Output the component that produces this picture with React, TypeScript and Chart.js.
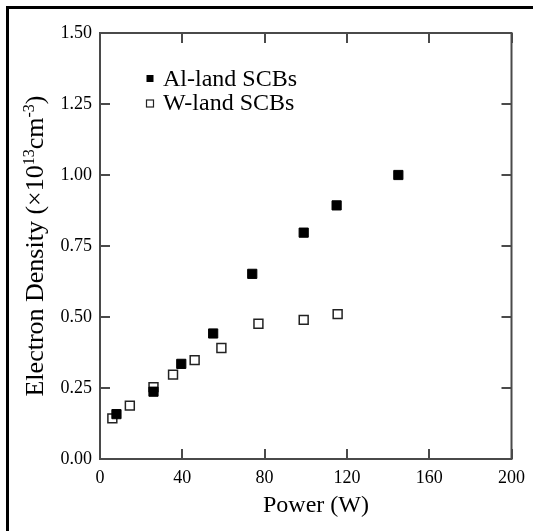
import { useEffect, useRef } from "react";
import { Chart, registerables } from "chart.js";

Chart.register(...registerables);

// ---- data ----
const alPower = [8, 26, 39.5, 55, 74, 99, 115, 145];
const alDensity = [0.158, 0.237, 0.335, 0.442, 0.652, 0.797, 0.893, 1.0];
const wPower = [6, 14.5, 26, 35.5, 46, 59, 77, 99, 115.5];
const wDensity = [0.143, 0.188, 0.253, 0.297, 0.348, 0.391, 0.476, 0.49, 0.51];
const xTicks = [0, 40, 80, 120, 160, 200];
const yTicks = [0, 0.25, 0.5, 0.75, 1.0, 1.25, 1.5];
const seriesLabels = ["Al-land SCBs", "W-land SCBs"];
const xTitle = "Power (W)";
// y title pieces: [text, isSuperscript]
const yTitleParts: [string, boolean][] = [
  ["Electron Density (\u00d710", false],
  ["13", true],
  ["cm", false],
  ["-3", true],
  [")", false],
];

const FONT = "'Liberation Serif', serif";
const AXIS_COLOR = "#4a4a4a";

Chart.defaults.font.family = FONT;

const decorPlugin = {
  id: "decor",
  beforeDraw(chart: any) {
    const ctx = chart.ctx;
    ctx.save();
    ctx.fillStyle = "#ffffff";
    ctx.fillRect(0, 0, chart.width, chart.height);
    // outer figure border (only top & left are inside the picture)
    ctx.fillStyle = "#000000";
    ctx.fillRect(6, 6, chart.width, 3);
    ctx.fillRect(6, 6, 3, chart.height);
    ctx.restore();
  },
  afterDraw(chart: any) {
    const ctx = chart.ctx;
    const a = chart.chartArea;
    const xs = chart.scales.x;
    const ys = chart.scales.y;
    ctx.save();
    // frame
    ctx.strokeStyle = AXIS_COLOR;
    ctx.lineWidth = 2;
    ctx.strokeRect(a.left, a.top, a.right - a.left, a.bottom - a.top);
    // inward ticks on all four sides
    const tl = 10;
    ctx.beginPath();
    xTicks.forEach((v) => {
      const px = Math.round(xs.getPixelForValue(v));
      ctx.moveTo(px, a.bottom);
      ctx.lineTo(px, a.bottom - tl);
      ctx.moveTo(px, a.top);
      ctx.lineTo(px, a.top + tl);
    });
    yTicks.forEach((v) => {
      const py = Math.round(ys.getPixelForValue(v));
      ctx.moveTo(a.left, py);
      ctx.lineTo(a.left + tl, py);
      ctx.moveTo(a.right, py);
      ctx.lineTo(a.right - tl, py);
    });
    ctx.stroke();

    // legend inside plot
    ctx.fillStyle = "#000";
    ctx.font = `24px ${FONT}`;
    ctx.textAlign = "left";
    ctx.textBaseline = "alphabetic";
    const rows = [
      { cy: 78.5, base: 86, filled: true },
      { cy: 103.5, base: 110, filled: false },
    ];
    rows.forEach((r, i) => {
      const s = 7;
      const cx = 150;
      if (r.filled) {
        ctx.fillStyle = "#000";
        ctx.fillRect(cx - s / 2, r.cy - s / 2, s, s);
      } else {
        ctx.fillStyle = "#fff";
        ctx.fillRect(cx - s / 2, r.cy - s / 2, s, s);
        ctx.strokeStyle = "#222";
        ctx.lineWidth = 1.2;
        ctx.strokeRect(cx - s / 2, r.cy - s / 2, s, s);
      }
      ctx.fillStyle = "#000";
      ctx.fillText(chart.data.datasets[i].label, 163, r.base);
    });

    // x title
    ctx.font = `24px ${FONT}`;
    ctx.textAlign = "center";
    ctx.fillText(xTitle, 316, 512);

    // y title (rotated) with superscripts
    const size = 26;
    const supSize = Math.round(size * 0.6);
    const widths = yTitleParts.map(([t, sup]) => {
      ctx.font = `${sup ? supSize : size}px ${FONT}`;
      return ctx.measureText(t).width;
    });
    const total = widths.reduce((p, c) => p + c, 0);
    ctx.translate(43, (a.top + a.bottom) / 2);
    ctx.rotate(-Math.PI / 2);
    ctx.textAlign = "left";
    let pos = -total / 2;
    yTitleParts.forEach(([t, sup], i) => {
      ctx.font = `${sup ? supSize : size}px ${FONT}`;
      ctx.fillText(t, pos, sup ? -size * 0.33 : 0);
      pos += widths[i];
    });
    ctx.restore();
  },
};

export default function App() {
  const ref = useRef<HTMLCanvasElement | null>(null);
  useEffect(() => {
    document.body.style.margin = "0";
    if (!ref.current) return;
    const chart = new Chart(ref.current, {
      type: "scatter",
      data: {
        datasets: [
          {
            label: seriesLabels[0],
            data: alPower.map((x, i) => ({ x, y: alDensity[i] })),
            pointStyle: "rect",
            pointRadius: 6.5,
            pointHoverRadius: 6.5,
            backgroundColor: "#000",
            borderColor: "#000",
            borderWidth: 1,
          },
          {
            label: seriesLabels[1],
            data: wPower.map((x, i) => ({ x, y: wDensity[i] })),
            pointStyle: "rect",
            pointRadius: 6.3,
            pointHoverRadius: 6.3,
            backgroundColor: "#fff",
            borderColor: "#222",
            borderWidth: 1.5,
          },
        ],
      },
      options: {
        animation: false,
        responsive: false,
        devicePixelRatio: 1,
        layout: { padding: { top: 33, right: 16, left: 0, bottom: 0 } },
        plugins: {
          legend: { display: false },
          tooltip: { enabled: false },
        },
        events: [],
        scales: {
          x: {
            type: "linear",
            min: 0,
            max: 200,
            afterBuildTicks: (s: any) => {
              s.ticks = xTicks.map((v) => ({ value: v }));
            },
            afterFit: (s: any) => {
              s.height = 72;
            },
            grid: { display: false, drawTicks: false },
            border: { display: false },
            ticks: {
              color: "#000",
              padding: 8,
              maxRotation: 0,
              font: { family: FONT, size: 18 },
              callback: (v: any) => String(v),
            },
          },
          y: {
            type: "linear",
            min: 0,
            max: 1.5,
            afterBuildTicks: (s: any) => {
              s.ticks = yTicks.map((v) => ({ value: v }));
            },
            afterFit: (s: any) => {
              s.width = 100;
            },
            grid: { display: false, drawTicks: false },
            border: { display: false },
            ticks: {
              color: "#000",
              padding: 8,
              font: { family: FONT, size: 18 },
              callback: (v: any) => Number(v).toFixed(2),
            },
          },
        },
      },
      plugins: [decorPlugin],
    });
    return () => chart.destroy();
  }, []);
  return (
    <div style={{ width: 533, height: 531, position: "relative" }}>
      <canvas ref={ref} width={533} height={531} style={{ display: "block" }} />
    </div>
  );
}
